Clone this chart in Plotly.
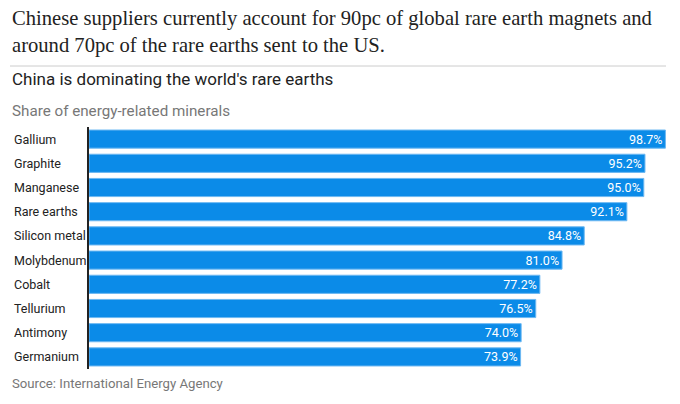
import plotly.graph_objects as go

# China's share of energy-related minerals
minerals = ['Gallium', 'Graphite', 'Manganese', 'Rare earths', 'Silicon metal',
            'Molybdenum', 'Cobalt', 'Tellurium', 'Antimony', 'Germanium']
share = [98.7, 95.2, 95.0, 92.1, 84.8, 81.0, 77.2, 76.5, 74.0, 73.9]
share_text = [f'{v:.1f}%' for v in share]

W, H = 680, 404
OFF = 8  # page is drawn with an 8px body margin
L, R, T, B = 81, 15, 119, 43
plot_w = W - L - R
plot_h = H - T - B


def px_x(px):
    # page pixel -> paper x
    return (px - OFF - L) / plot_w


def px_y(py):
    # page pixel (from top) -> paper y
    return (H - B - (py - OFF)) / plot_h


fig = go.Figure(go.Bar(
    x=share,
    y=minerals,
    orientation='h',
    marker=dict(color='#0b8be8', line=dict(color='#6db8f2', width=1)),
    text=share_text,
    textposition='inside',
    insidetextanchor='end',
    textfont=dict(family='Roboto', size=12.5, color='white'),
    hoverinfo='skip',
))

# category labels left-aligned at the page edge
for m in minerals:
    fig.add_annotation(x=px_x(12), xref='paper', y=m, yref='y',
                       text=m, showarrow=False, xanchor='left',
                       font=dict(family='Roboto', size=12.5, color='#222222'))

fig.update_layout(
    width=W, height=H,
    margin=dict(l=L, r=R, t=T, b=B),
    paper_bgcolor='white', plot_bgcolor='white',
    bargap=0.25,
    showlegend=False,
    uniformtext=dict(minsize=12.5, mode='show'),
    xaxis=dict(range=[0, 100], visible=False, fixedrange=True),
    yaxis=dict(autorange='reversed', showticklabels=False, showgrid=False,
               showline=True, linecolor='#222222', linewidth=1.5,
               ticks='', zeroline=False),
)


def text_at(txt, py, size, color, family='Roboto'):
    fig.add_annotation(x=px_x(10), y=px_y(py), xref='paper', yref='paper',
                       text=txt, showarrow=False, xanchor='left',
                       yanchor='middle', align='left',
                       font=dict(family=family, size=size, color=color))


# headline, rule, title, subtitle, source
text_at('Chinese suppliers currently account for 90pc of global rare earth magnets and',
        18, 20.6, '#222222', 'Liberation Serif')
text_at('around 70pc of the rare earths sent to the US.', 46, 20.6, '#222222',
        'Liberation Serif')
text_at("China is dominating the world's rare earths", 79, 17, '#222222')
text_at('Share of energy-related minerals', 111, 15.2, '#777777')
text_at('Source: International Energy Agency', 383, 13.2, '#777777')

fig.add_shape(type='line', xref='paper', yref='paper',
              x0=px_x(10), x1=px_x(666), y0=px_y(66), y1=px_y(66),
              line=dict(color='#cccccc', width=1))

fig.write_html('out.html')
